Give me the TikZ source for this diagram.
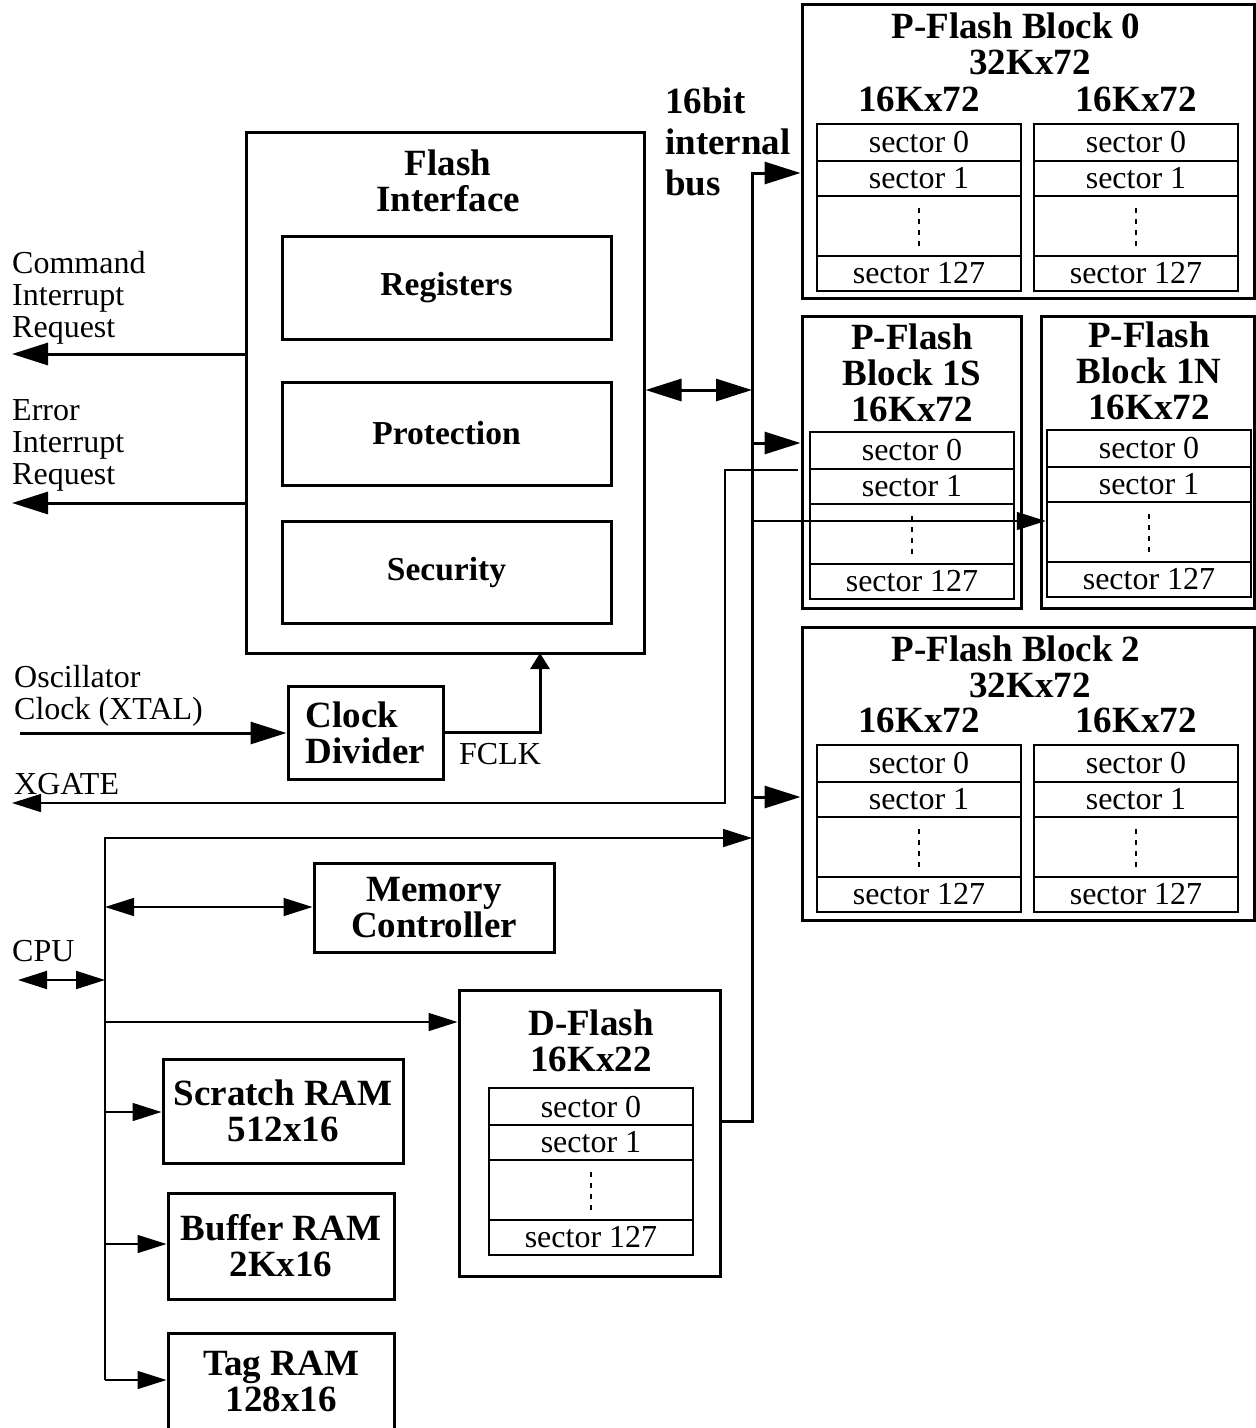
\documentclass[tikz,border=0pt]{standalone}
\usepackage{fontspec}
\setmainfont{Liberation Serif}
\usetikzlibrary{arrows.meta, positioning}

\newcommand{\normtxt}{\fontsize{32}{32}\selectfont}
\newcommand{\boldtxt}{\fontsize{37}{36}\selectfont\bfseries}

\tikzset{
  bigtip/.tip={Triangle[length=36pt,width=22pt]},
  midtip/.tip={Triangle[length=29pt,width=18pt]},
  smalltip/.tip={Triangle[length=16pt,width=19pt]},
  wire/.style={line width=3pt},
  thinwire/.style={line width=1.5pt},
  box/.style={draw, line width=3pt, inner sep=0pt, font=\boldtxt, align=center},
  part/.style={box, minimum width=329pt, font=\fontsize{33.5}{33}\selectfont\bfseries},
  sec/.style={draw, line width=2.5pt, minimum width=204pt, inner sep=0pt, font=\normtxt},
  dots/.style={line width=2.5pt, dash pattern=on 5pt off 6pt},
  lbl/.style={font=\normtxt, inner sep=0pt, align=left},
  title/.style={font=\boldtxt, inner sep=0pt, align=center},
}

\begin{document}
\begin{tikzpicture}[x=1pt, y=-1pt]
\useasboundingbox (0,0) rectangle (1256,1428);

% Flash interface with its three parts
\node[box, minimum width=398pt, minimum height=521pt] (fi) at (445,392.5) {};
\node[title] at (448,181) {Flash\\Interface};
\node[part, minimum height=103pt] (reg) at (446.5,287.5) {Registers};
\node[part, minimum height=103pt] (prot) at (446.5,433.5) {Protection};
\node[part, minimum height=102pt] (sec) at (446.5,572) {Security};

% clock, memory controller and RAMs
\node[box, align=left, minimum width=155pt, minimum height=93pt] (clk) at (365.5,732.5) {Clock\\Divider};
\node[box, minimum width=240pt, minimum height=89pt] (mem) at (434,907.5) {Memory\\Controller};
\node[box, minimum width=240pt, minimum height=104pt] (scratch) at (283,1111) {Scratch RAM\\512x16};
\node[box, minimum width=226pt, minimum height=106pt] (buffer) at (281,1246) {Buffer RAM\\2Kx16};
\node[box, minimum width=226pt, minimum height=97pt] (tag) at (281,1381.5) {Tag RAM\\128x16};

% outer boxes of the flash blocks
\node[box, minimum width=452pt, minimum height=294pt] (b0) at (1028,151) {};
\node[box, minimum width=219pt, minimum height=292pt] (b1s) at (911.5,462) {};
\node[box, minimum width=213pt, minimum height=292pt] (b1n) at (1147.5,462) {};
\node[box, minimum width=452pt, minimum height=293pt] (b2) at (1028,773.5) {};
\node[box, minimum width=261pt, minimum height=286pt] (dflash) at (589.5,1133) {};

% P-Flash Block 0, left half
\begin{scope}[shift={(817,124)}]
\node[sec, minimum height=37pt] (b0a-s0) at (102,18.5) {sector 0};
\node[sec, minimum height=35pt] (b0a-s1) at (102,54.5) {sector 1};
\node[sec, minimum height=60pt] (b0a-dd) at (102,102) {};
\node[sec, minimum height=35pt] (b0a-s127) at (102,149.5) {sector 127};
\draw[dots] (102,84) -- (102,124);
\end{scope}

% P-Flash Block 0, right half
\begin{scope}[shift={(1034,124)}]
\node[sec, minimum height=37pt] (b0b-s0) at (102,18.5) {sector 0};
\node[sec, minimum height=35pt] (b0b-s1) at (102,54.5) {sector 1};
\node[sec, minimum height=60pt] (b0b-dd) at (102,102) {};
\node[sec, minimum height=35pt] (b0b-s127) at (102,149.5) {sector 127};
\draw[dots] (102,84) -- (102,124);
\end{scope}

% P-Flash Block 1S
\begin{scope}[shift={(810,432)}]
\node[sec, minimum height=37pt] (b1s-s0) at (102,18.5) {sector 0};
\node[sec, minimum height=35pt] (b1s-s1) at (102,54.5) {sector 1};
\node[sec, minimum height=60pt] (b1s-dd) at (102,102) {};
\node[sec, minimum height=35pt] (b1s-s127) at (102,149.5) {sector 127};
\draw[dots] (102,84) -- (102,124);
\end{scope}

% P-Flash Block 1N
\begin{scope}[shift={(1047,430)}]
\node[sec, minimum height=37pt] (b1n-s0) at (102,18.5) {sector 0};
\node[sec, minimum height=35pt] (b1n-s1) at (102,54.5) {sector 1};
\node[sec, minimum height=60pt] (b1n-dd) at (102,102) {};
\node[sec, minimum height=35pt] (b1n-s127) at (102,149.5) {sector 127};
\draw[dots] (102,84) -- (102,124);
\end{scope}

% P-Flash Block 2, left half
\begin{scope}[shift={(817,745)}]
\node[sec, minimum height=37pt] (b2a-s0) at (102,18.5) {sector 0};
\node[sec, minimum height=35pt] (b2a-s1) at (102,54.5) {sector 1};
\node[sec, minimum height=60pt] (b2a-dd) at (102,102) {};
\node[sec, minimum height=35pt] (b2a-s127) at (102,149.5) {sector 127};
\draw[dots] (102,84) -- (102,124);
\end{scope}

% P-Flash Block 2, right half
\begin{scope}[shift={(1034,745)}]
\node[sec, minimum height=37pt] (b2b-s0) at (102,18.5) {sector 0};
\node[sec, minimum height=35pt] (b2b-s1) at (102,54.5) {sector 1};
\node[sec, minimum height=60pt] (b2b-dd) at (102,102) {};
\node[sec, minimum height=35pt] (b2b-s127) at (102,149.5) {sector 127};
\draw[dots] (102,84) -- (102,124);
\end{scope}

% D-Flash
\begin{scope}[shift={(489,1088)}]
\node[sec, minimum height=37pt] (df-s0) at (102,18.5) {sector 0};
\node[sec, minimum height=35pt] (df-s1) at (102,54.5) {sector 1};
\node[sec, minimum height=60pt] (df-dd) at (102,102) {};
\node[sec, minimum height=35pt] (df-s127) at (102,149.5) {sector 127};
\draw[dots] (102,84) -- (102,124);
\end{scope}

% block titles
\node[title] (b0t) at (1016,44) {P-Flash Block 0\\\hspace*{28pt}32Kx72};
\node[title, above=11pt of b0a-s0] {16Kx72};
\node[title, above=11pt of b0b-s0] {16Kx72};
\node[title, above=9pt of b1s-s0] {P-Flash\\Block 1S\\16Kx72};
\node[title, above=9pt of b1n-s0] {P-Flash\\Block 1N\\16Kx72};
\node[title] (b2t) at (1016,667) {P-Flash Block 2\\\hspace*{28pt}32Kx72};
\node[title, above=11pt of b2a-s0] {16Kx72};
\node[title, above=11pt of b2b-s0] {16Kx72};
\node[title, above=15pt of df-s0] {D-Flash\\16Kx22};

% outside labels
\node[title, anchor=west, align=left, font=\fontsize{37}{41}\selectfont\bfseries] (busl) at (665,142) {16bit\\internal\\bus};
\node[lbl, anchor=west] (cmdl) at (12,298) {Command\\Interrupt\\Request};
\node[lbl, anchor=west] (errl) at (12,445) {Error\\Interrupt\\Request};
\node[lbl, anchor=west] (oscl) at (14,696) {Oscillator\\Clock (XTAL)};
\node[lbl, anchor=west] (xgl) at (14,784) {XGATE};
\node[lbl, anchor=west] (cpul) at (12,951) {CPU};
\node[lbl, anchor=west] (fclkl) at (459,754) {FCLK};

% 16bit internal bus
\coordinate (bustop) at (752,173);
\coordinate (busbot) at (752,1121);
\coordinate (j1s) at (752,443);
\coordinate (j1n) at (752,521);
\coordinate (j2) at (752,797);
\coordinate (jfi) at (752,390);
\draw[wire,-bigtip] (dflash.east |- busbot) -- (busbot) -- (bustop) -- (bustop -| b0.west);
\draw[wire,-bigtip] (j1s) -- (j1s -| b1s.west);
\draw[thinwire,-midtip] (j1n) -- (j1n -| b1n-dd.west);
\draw[wire,-bigtip] (j2) -- (j2 -| b2.west);
\draw[wire,bigtip-bigtip] (jfi -| fi.east) -- (jfi);

% XGATE
\coordinate (xg0) at (798,470);
\coordinate (xgc) at (725,803);
\coordinate (xgend) at (12,803);
\draw[thinwire,-midtip] (xg0) -| (xgc) -- (xgend);

% interrupt requests
\coordinate (cmd) at (12,354);
\coordinate (err) at (12,503);
\draw[wire,-bigtip] (cmd -| fi.west) -- (cmd);
\draw[wire,-bigtip] (err -| fi.west) -- (err);

% clock
\coordinate (osc) at (20,733);
\coordinate (fclk) at (540,653);
\draw[wire,-bigtip] (osc) -- (osc -| clk.west);
\draw[wire,-smalltip] (clk.east) -| (fclk);

% CPU side
\coordinate (cputop) at (105,838);
\coordinate (cpubot) at (105,1380);
\coordinate (cpuin) at (18,980);
\coordinate (jm) at (105,907);
\coordinate (jd) at (105,1022);
\coordinate (js) at (105,1112);
\coordinate (jb) at (105,1244);
\draw[thinwire,-midtip] (cpubot) -- (cputop) -- (cputop -| bustop);
\draw[line width=2pt,midtip-midtip] (cpuin) -- (cpuin -| cputop);
\draw[thinwire,midtip-midtip] (jm) -- (jm -| mem.west);
\draw[thinwire,-midtip] (jd) -- (jd -| dflash.west);
\draw[thinwire,-midtip] (js) -- (js -| scratch.west);
\draw[thinwire,-midtip] (jb) -- (jb -| buffer.west);
\draw[thinwire,-midtip] (cpubot) -- (cpubot -| tag.west);
\end{tikzpicture}
\end{document}
